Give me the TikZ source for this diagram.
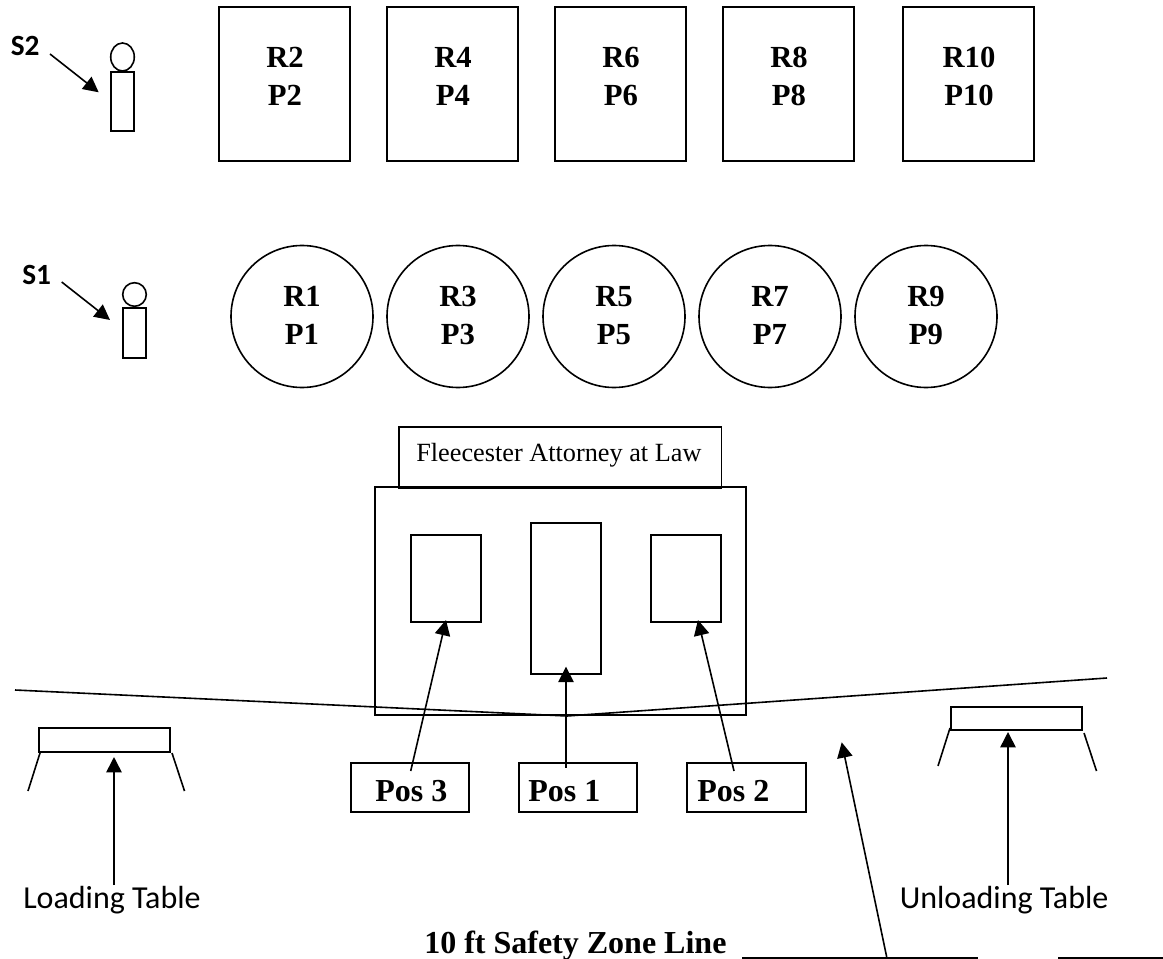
\documentclass[tikz,border=0pt]{standalone}
\usepackage{fontspec}
\setmainfont{Liberation Serif}
\newfontfamily\calibrifont{Carlito}
\usetikzlibrary{arrows.meta,shapes.geometric}
\newcommand{\pxbox}[5]{%
  \pgfmathsetmacro{\bxw}{(#4-#2)*0.75}\pgfmathsetmacro{\bxh}{(#5-#3)*0.75}%
  \node[shapebox,minimum width=\bxw pt,minimum height=\bxh pt] (#1) at ({(#2+#4)/2},{(#3+#5)/2}) {};}
\newcommand{\rp}[2]{\rule{0pt}{20pt}#1\\#2\rule[-2pt]{0pt}{2pt}}
\tikzset{
  x=0.75pt,y=-0.75pt,
  shapebox/.style={draw=black,line width=1.2pt,inner sep=0pt,outer sep=0pt,fill=none},
  roundbox/.style={draw=black,line width=1.2pt,circle,inner sep=0pt,outer sep=0pt,minimum size=106.5pt},
  headnode/.style={draw=black,line width=1.2pt,ellipse,inner sep=0pt,outer sep=0pt},
  rplabel/.style={font=\fontsize{23}{28.5}\selectfont\bfseries,align=center,inner sep=0pt},
  poslabel/.style={font=\fontsize{24}{28}\selectfont\bfseries,anchor=base west,inner sep=0pt},
  sanslabel/.style={font=\calibrifont\fontsize{24}{28}\selectfont,anchor=base west,inner sep=0pt},
  sbold/.style={font=\calibrifont\fontsize{22}{26}\selectfont\bfseries,anchor=base west,inner sep=0pt},
  conn/.style={draw=black,line width=1.2pt},
  pointer/.style={conn,-{Triangle[length=11.5pt,width=11.5pt]}},
}
\begin{document}
\begin{tikzpicture}
\useasboundingbox (0,0) rectangle (1163,959);
% top row
\pxbox{s2}{219}{7}{350}{161}
\pxbox{s4}{387}{7}{518}{161}
\pxbox{s6}{555}{7}{686}{161}
\pxbox{s8}{723}{7}{854}{161}
\pxbox{s10}{903}{7}{1034}{161}
\node[rplabel] (t2) at (285,74.5) {\rp{R2}{P2}};
\node[rplabel] (t4) at (453,74.5) {\rp{R4}{P4}};
\node[rplabel] (t6) at (621,74.5) {\rp{R6}{P6}};
\node[rplabel] (t8) at (789,74.5) {\rp{R8}{P8}};
\node[rplabel] (t10) at (969,74.5) {\rp{R10}{P10}};
% circles
\node[roundbox] (c1) at (302,316.5) {};
\node[roundbox] (c3) at (458,316.5) {};
\node[roundbox] (c5) at (614,316.5) {};
\node[roundbox] (c7) at (770,316.5) {};
\node[roundbox] (c9) at (926,316.5) {};
\node[rplabel] (t1) at (302,313.5) {\rp{R1}{P1}};
\node[rplabel] (t3) at (458,313.5) {\rp{R3}{P3}};
\node[rplabel] (t5) at (614,313.5) {\rp{R5}{P5}};
\node[rplabel] (t7) at (770,313.5) {\rp{R7}{P7}};
\node[rplabel] (t9) at (926,313.5) {\rp{R9}{P9}};
% persons
\node[headnode,minimum width=17.7pt,minimum height=21pt] (h2) at (122.5,57) {};
\pxbox{b2}{111}{72}{134}{131}
\node[headnode,minimum width=17.7pt,minimum height=17.7pt] (h1) at (134.5,294.5) {};
\pxbox{b1}{123}{308}{146}{358}
\node[sbold] (ls2) at (10.5,55.5) {S2};
\node[sbold] (ls1) at (22,284) {S1};
\coordinate (a2s) at (50,54);
\coordinate (a2e) at (98.7,92.3);
\coordinate (a1s) at (61.7,282);
\coordinate (a1e) at (110,320);
\draw[pointer] (a2s) -- (a2e);
\draw[pointer] (a1s) -- (a1e);
% stand
\pxbox{big}{375}{487}{746}{715}
\pxbox{sign}{399}{427}{721.5}{488}
\node[font=\fontsize{19.7}{23}\selectfont,anchor=base west,inner sep=0pt] (signt) at (416,461) {Fleecester Attorney at Law};
\pxbox{i3}{411}{535}{481}{622}
\pxbox{i1}{531}{523}{601}{674}
\pxbox{i2}{651}{535}{721}{622}
% safety line
\coordinate (sl1) at (15,690);
\coordinate (sl2) at (567,716);
\coordinate (sl3) at (1107,678);
\draw[conn] (sl1) -- (sl2) -- (sl3);
% positions
\pxbox{p3}{351}{763}{469}{812}
\pxbox{p1}{519}{763}{637}{812}
\pxbox{p2}{687}{763}{806}{812}
\node[poslabel] (tp3) at (375,801.7) {Pos 3};
\node[poslabel] (tp1) at (528,801.7) {Pos 1};
\node[poslabel] (tp2) at (697,801.7) {Pos 2};
\coordinate (a3s) at (410.7,771);
\coordinate (a3e) at (446,620);
\coordinate (a4s) at (566,767.7);
\coordinate (a4e) at (566,666.7);
\coordinate (a5s) at (734,771);
\coordinate (a5e) at (698,620);
\draw[pointer] (a3s) -- (a3e);
\draw[pointer] (a4s) -- (a4e);
\draw[pointer] (a5s) -- (a5e);
% loading table
\pxbox{lt}{39}{728}{170}{752}
\coordinate (ll1) at (40,753);
\coordinate (ll2) at (28,791);
\coordinate (lr1) at (172,753);
\coordinate (lr2) at (184.5,791);
\draw[conn] (ll1) -- (ll2);
\draw[conn] (lr1) -- (lr2);
\node[sanslabel] (tl) at (23,908) {Loading Table};
\coordinate (la) at (114,885);
\coordinate (lb) at (114,757);
\draw[pointer] (la) -- (lb);
% unloading table
\pxbox{ut}{951}{707}{1082}{730}
\coordinate (ul1) at (950,728);
\coordinate (ul2) at (938,766);
\coordinate (ur1) at (1084,733);
\coordinate (ur2) at (1096.5,771);
\draw[conn] (ul1) -- (ul2);
\draw[conn] (ur1) -- (ur2);
\node[sanslabel] (tu) at (899.5,908) {Unloading Table};
\coordinate (ua) at (1008,885);
\coordinate (ub) at (1008,732);
\draw[pointer] (ua) -- (ub);
% safety label
\node[font=\fontsize{24}{28}\selectfont\bfseries,anchor=base west,inner sep=0pt] (zone) at (424,953) {10 ft Safety Zone Line};
\coordinate (u1a) at (742,957.7);
\coordinate (u1b) at (978,957.7);
\coordinate (u2a) at (1058,957.7);
\coordinate (u2b) at (1163,957.7);
\coordinate (sa) at (886.7,957);
\coordinate (sb) at (841.7,742.3);
\draw[conn] (u1a) -- (u1b);
\draw[conn] (u2a) -- (u2b);
\draw[pointer] (sa) -- (sb);
\end{tikzpicture}
\end{document}
